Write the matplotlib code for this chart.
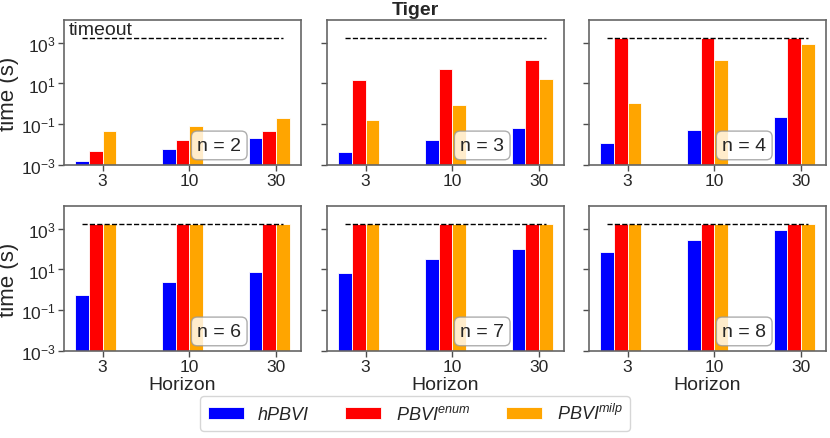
import numpy as np
import matplotlib
matplotlib.use("Agg")
import matplotlib.pyplot as plt

plt.rcParams["font.family"] = ["Liberation Sans", "DejaVu Sans"]
plt.rcParams["mathtext.fontset"] = "custom"
plt.rcParams["mathtext.it"] = "Liberation Sans:italic"
plt.rcParams["mathtext.rm"] = "Liberation Sans"
plt.rcParams["text.color"] = "0.15"
plt.rcParams["axes.labelcolor"] = "0.15"
plt.rcParams["xtick.color"] = "0.15"
plt.rcParams["ytick.color"] = "0.15"

# data (seconds, log scale)
horizons = ["3", "10", "30"]
n_states = [2, 3, 4, 6, 7, 8]
timeout = 1800

hpbvi = [
    [1.6e-3, 6.3e-3, 0.022],
    [4.4e-3, 0.017, 0.066],
    [0.012, 0.052, 0.22],
    [0.56, 2.3, 7.9],
    [6.6, 31, 96],
    [69, 270, 830],
]
pbvi_enum = [
    [5e-3, 0.0176, 0.047],
    [14, 51, 141],
    [1800, 1800, 1800],
    [1800, 1800, 1800],
    [1800, 1800, 1800],
    [1800, 1800, 1800],
]
pbvi_milp = [
    [0.047, 0.085, 0.2],
    [0.16, 0.89, 15.7],
    [1.05, 141, 830],
    [1800, 1800, 1800],
    [1800, 1800, 1800],
    [1800, 1800, 1800],
]

labels = ["hPBVI", r"PBVI$^{enum}$", r"PBVI$^{milp}$"]
colors = ["blue", "red", "orange"]

W, H = 830, 439
fig = plt.figure(figsize=(W / 100, H / 100), dpi=100)

lefts = [64, 327, 589]
tops = [21, 207]
aw, ah = 237, 145

x = np.arange(len(horizons))
w = 0.16
for i, n in enumerate(n_states):
    r, c = divmod(i, 3)
    ax = fig.add_axes([lefts[c] / W, 1 - (tops[r] + ah) / H, aw / W, ah / H])
    series = [hpbvi[i], pbvi_enum[i], pbvi_milp[i]]
    bars = []
    for k, (vals, col) in enumerate(zip(series, colors)):
        b = ax.bar(x + (k - 1) * w, vals, w, color=col, edgecolor="white",
                   linewidth=0.6, label=labels[k], zorder=2)
        bars.append(b)
    ax.set_yscale("log")
    ax.set_ylim(1e-3, 1.3e4)
    ax.hlines(timeout, x[0] - w, x[-1] + w, colors="k", linestyles="--",
              linewidth=1.0, zorder=3)
    ax.set_xticks(x + w / 2)
    ax.set_xticklabels(horizons)
    ax.set_yticks([1e-3, 1e-1, 1e1, 1e3])
    ax.minorticks_off()
    ax.tick_params(labelsize=12.5, length=4, width=1, color="0.3", pad=2)
    for s in ax.spines.values():
        s.set_color("0.4")
        s.set_linewidth(1.2)
    if c == 0:
        ax.set_ylabel("time (s)", fontsize=16, labelpad=1)
    else:
        ax.set_yticklabels([])
    if r == 1:
        ax.set_xlabel("Horizon", fontsize=14, labelpad=1)
    ax.text(0.655, 0.135, "n = %d" % n, transform=ax.transAxes, fontsize=14,
            ha="center", va="center", zorder=5,
            bbox=dict(boxstyle="round,pad=0.3", facecolor="white", alpha=0.8,
                      edgecolor="0.6"))
    if i == 0:
        ax.text(0.02, 0.99, "timeout", transform=ax.transAxes, fontsize=14,
                ha="left", va="top")
        handles = bars

fig.text(0.5, 0.975, "Tiger", ha="center", va="center", fontsize=14,
         fontweight="bold")

fig.legend(handles, labels, loc="center", bbox_to_anchor=(0.5, 0.056),
           ncol=3, prop=dict(size=13, style="italic"), handlelength=2.0,
           handleheight=0.7, columnspacing=2.0, handletextpad=0.8,
           frameon=True, edgecolor="0.8", fancybox=True)

fig.savefig("out.png", dpi=100)
